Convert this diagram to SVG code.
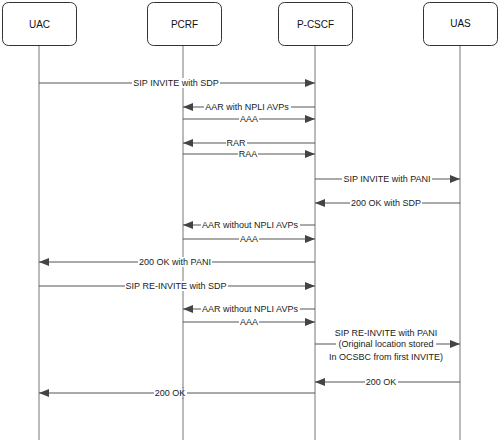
<svg xmlns="http://www.w3.org/2000/svg" width="499" height="443" viewBox="0 0 499 443">
<style>
.box{fill:#fff;stroke:#333;stroke-width:1}
.hd{font-family:"Liberation Sans",Arial,sans-serif;font-size:10px;fill:#111;text-anchor:middle}
.life{stroke:#777;stroke-width:1}
.msg{stroke:#555;stroke-width:1;fill:none;marker-end:url(#ah)}
.lb{font-family:"Liberation Sans",Arial,sans-serif;font-size:9px;fill:#222;text-anchor:middle}
.bg{fill:#fff}
</style>
<defs>
<marker id="ah" markerUnits="userSpaceOnUse" markerWidth="11" markerHeight="9" refX="10" refY="4" orient="auto">
<path d="M0,0 L10,4 L0,8 z" fill="#444"/>
</marker>
</defs>
<g id="lifelines">
<line class="life" x1="39" y1="45" x2="39" y2="440"/>
<line class="life" x1="183" y1="45" x2="183" y2="440"/>
<line class="life" x1="315" y1="45" x2="315" y2="440"/>
<line class="life" x1="460" y1="45" x2="460" y2="440"/>
</g>
<g id="UAC"><rect class="box" x="2.5" y="2.5" width="74" height="43" rx="6"/><text class="hd" x="39.5" y="28">UAC</text></g>
<g id="PCRF"><rect class="box" x="147.5" y="2.5" width="74" height="43" rx="6"/><text class="hd" x="184.5" y="28">PCRF</text></g>
<g id="P-CSCF"><rect class="box" x="278.5" y="2.5" width="74" height="43" rx="6"/><text class="hd" x="315.5" y="28">P-CSCF</text></g>
<g id="UAS"><rect class="box" x="423.5" y="2.5" width="74" height="43" rx="6"/><text class="hd" x="460.5" y="27">UAS</text></g>
<g id="connectors">
<line class="msg" x1="39" y1="83" x2="315" y2="83"/>
<line class="msg" x1="315" y1="107" x2="183" y2="107"/>
<line class="msg" x1="183" y1="119" x2="315" y2="119"/>
<line class="msg" x1="315" y1="143" x2="183" y2="143"/>
<line class="msg" x1="183" y1="154" x2="315" y2="154"/>
<line class="msg" x1="315" y1="179" x2="460" y2="179"/>
<line class="msg" x1="460" y1="203" x2="315" y2="203"/>
<line class="msg" x1="315" y1="225" x2="183" y2="225"/>
<line class="msg" x1="183" y1="239" x2="315" y2="239"/>
<line class="msg" x1="315" y1="262" x2="39" y2="262"/>
<line class="msg" x1="39" y1="286" x2="315" y2="286"/>
<line class="msg" x1="315" y1="309" x2="183" y2="309"/>
<line class="msg" x1="183" y1="322" x2="315" y2="322"/>
<line class="msg" x1="315" y1="344" x2="460" y2="344"/>
<line class="msg" x1="460" y1="382" x2="315" y2="382"/>
<line class="msg" x1="315" y1="393" x2="39" y2="393"/>
</g>
<g id="labels">
<rect class="bg" x="132" y="78" width="88" height="10"/><text class="lb" x="176" y="86">SIP INVITE with SDP</text>
<rect class="bg" x="204" y="102" width="87" height="10"/><text class="lb" x="247" y="110">AAR with NPLI AVPs</text>
<rect class="bg" x="239" y="114" width="20" height="10"/><text class="lb" x="249" y="122">AAA</text>
<rect class="bg" x="226" y="138" width="21" height="10"/><text class="lb" x="236" y="146">RAR</text>
<rect class="bg" x="238" y="149" width="20" height="10"/><text class="lb" x="248" y="157">RAA</text>
<rect class="bg" x="342" y="174" width="90" height="10"/><text class="lb" x="387" y="182">SIP INVITE with PANI</text>
<rect class="bg" x="350" y="198" width="72" height="10"/><text class="lb" x="386" y="206">200 OK with SDP</text>
<rect class="bg" x="201" y="220" width="99" height="10"/><text class="lb" x="250" y="228">AAR without NPLI AVPs</text>
<rect class="bg" x="239" y="234" width="20" height="10"/><text class="lb" x="249" y="242">AAA</text>
<rect class="bg" x="138" y="257" width="74" height="10"/><text class="lb" x="175" y="265">200 OK with PANI</text>
<rect class="bg" x="125" y="281" width="103" height="10"/><text class="lb" x="176" y="289">SIP RE-INVITE with SDP</text>
<rect class="bg" x="201" y="304" width="99" height="10"/><text class="lb" x="250" y="312">AAR without NPLI AVPs</text>
<rect class="bg" x="239" y="317" width="20" height="10"/><text class="lb" x="249" y="325">AAA</text>
<text class="lb" x="386" y="336">SIP RE-INVITE with PANI</text>
<rect class="bg" x="336" y="339" width="100" height="10"/><text class="lb" x="386" y="347">(Original location stored</text>
<text class="lb" x="386" y="360">In OCSBC from first INVITE)</text>
<rect class="bg" x="365" y="377" width="33" height="10"/><text class="lb" x="381" y="385">200 OK</text>
<rect class="bg" x="154" y="388" width="33" height="10"/>
<line class="life" x1="183" y1="387" x2="183" y2="399"/>
<text class="lb" x="170" y="396">200 OK</text>
</g>
</svg>
